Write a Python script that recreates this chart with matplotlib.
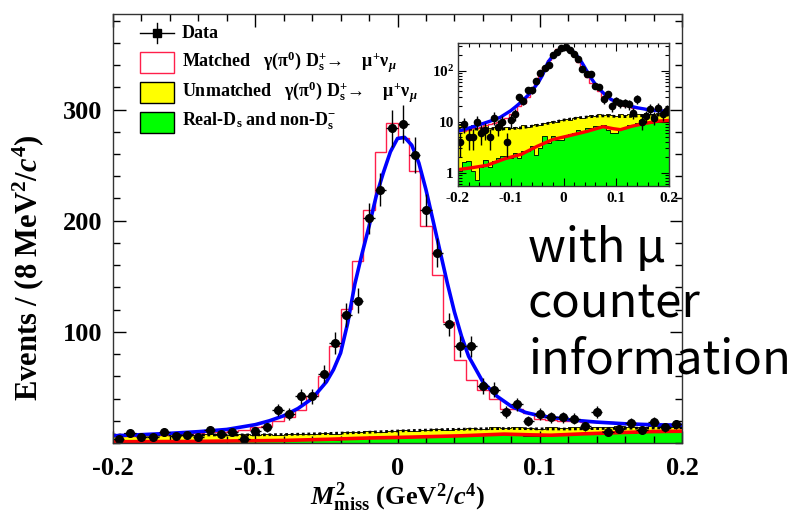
import numpy as np
import matplotlib
matplotlib.use('Agg')
from matplotlib import pyplot as plt
from matplotlib.patches import Rectangle
from matplotlib.lines import Line2D
from matplotlib.ticker import MultipleLocator, FixedLocator, NullFormatter

# ROOT-like look: bold Times for text, Times for math
plt.rcParams['font.family'] = 'serif'
plt.rcParams['font.serif'] = ['Liberation Serif', 'DejaVu Serif']
plt.rcParams['font.weight'] = 'bold'
plt.rcParams['mathtext.fontset'] = 'custom'
plt.rcParams['mathtext.rm'] = 'Liberation Serif:bold'
plt.rcParams['mathtext.bf'] = 'Liberation Serif:bold'
plt.rcParams['mathtext.it'] = 'Liberation Serif:italic'
plt.rcParams['mathtext.fallback'] = 'stix'

W, H = 800, 518

# M^2_miss bins: 50 bins of 8 MeV^2 from -0.2 to 0.2 GeV^2
edges = np.linspace(-0.2, 0.2, 51)
centers = 0.5 * (edges[:-1] + edges[1:])

data_counts = np.array([4, 9, 5, 5, 10, 6, 7, 5, 12, 8,
                        10, 4, 11, 14, 30, 26, 42, 42, 62, 90,
                        115, 128, 202, 228, 283, 287, 259, 210, 171, 107,
                        87, 87, 51, 48, 28, 35, 20, 26, 23, 23,
                        22, 15, 28, 10, 13, 18, 12, 19, 14, 17])

# stacked MC: matched signal on top of unmatched on top of real-Ds/non-Ds
matched_total = np.array([6.5, 6.5, 7, 7.5, 7.5, 8, 8.5, 9, 9.5, 10,
                          11, 12, 14, 15.6, 20, 23, 30, 42, 60, 87,
                          121, 164, 210, 262, 288, 274, 245, 195, 151, 109,
                          75, 57, 48, 40, 31, 31, 27, 22, 21, 20,
                          20, 19, 19, 18.5, 18, 18, 17.5, 17, 17, 17])
unmatched_total = np.array([8.5, 9.0, 8.0, 8.5, 7.5, 8.0, 8.5, 7.5, 8.0, 7.0,
                            7.5, 8.0, 7.5, 8.0, 7.5, 8.5, 8.0, 8.5, 9.0, 8.5,
                            9.5, 10.0, 10.5, 10.0, 11.0, 11.5, 11.0, 12.0, 12.5, 12.0,
                            13.0, 13.5, 13.0, 14.0, 13.5, 14.5, 13.5, 13.0, 14.0, 13.5,
                            14.0, 13.5, 14.5, 14.0, 15.0, 14.5, 14.0, 15.0, 15.5, 14.5])
nonds = np.array([1.06, 1.6, 1.67, 1.06, 0.73, 1.3, 1.8, 1.29, 1.67, 1.94,
                  2.15, 2.15, 1.94, 2.43, 1.94, 2.62, 2.62, 3.28, 2.25, 3.05,
                  5.3, 3.82, 5.15, 4.4, 4.4, 5.3, 5.8, 6.0, 7.0, 6.5,
                  7.5, 7.5, 8.1, 8.1, 8.7, 7.0, 6.0, 6.0, 7.5, 7.5,
                  8.7, 8.7, 9.4, 11.0, 9.4, 9.4, 10.0, 10.0, 10.6, 10.6])

# total fit (blue)
fit_x = [-0.2, -0.18, -0.16, -0.14, -0.12, -0.1, -0.09, -0.08, -0.07, -0.06,
         -0.05, -0.045, -0.04, -0.035, -0.03, -0.025, -0.02, -0.015, -0.01, -0.005,
         0.0, 0.005, 0.01, 0.015, 0.02, 0.025, 0.03, 0.035, 0.04, 0.045,
         0.05, 0.06, 0.07, 0.08, 0.09, 0.1, 0.12, 0.14, 0.16, 0.18, 0.2]
fit_y = [6.5, 7.5, 8.7, 10.2, 12.2, 16.5, 20, 24.5, 31, 40,
         55, 66, 81, 108, 143, 170, 195, 222, 243, 262,
         274, 275, 268, 252, 228, 200, 172, 144, 118, 96,
         78, 55, 42, 33, 27.5, 24.5, 21, 18.8, 17.3, 16.4, 16]
# background fit (black dashed) and non-Ds fit (red)
bkg_x = [-0.2, -0.15, -0.1, -0.08, -0.05, -0.02, 0.0, 0.03, 0.06, 0.08, 0.1, 0.12, 0.15, 0.2]
bkg_y = [7.2, 7.2, 7.3, 7.6, 8.5, 9.7, 10.8, 12.0, 12.8, 13.1, 12.7, 12.6, 13.2, 13.7]
red_x = [-0.2, -0.175, -0.145, -0.11, -0.08, -0.05, -0.02, 0.01, 0.045, 0.075,
         0.095, 0.108, 0.13, 0.155, 0.18, 0.2]
red_y = [1.15, 1.25, 1.4, 1.9, 2.3, 3.3, 4.5, 5.3, 6.5, 8.0,
         7.3, 7.0, 8.2, 9.3, 10.3, 10.6]

legend_labels = ['Data',
                 r'Matched   γ(π$^{0}$) D$_{\mathrm{s}}^{+}$→    μ$^{+}$ν$_{\mu}$',
                 r'Unmatched   γ(π$^{0}$) D$_{\mathrm{s}}^{+}$→    μ$^{+}$ν$_{\mu}$',
                 r'Real-D$_{\mathrm{s}}$ and non-D$_{\mathrm{s}}^{-}$']
x_ticks = [-0.2, -0.1, 0.0, 0.1, 0.2]
x_tick_labels = ['-0.2', '-0.1', '0', '0.1', '0.2']

YELLOW = '#ffff00'
GREEN = '#00ff00'
MATCH_RED = '#ff1f4b'


def px(x, y):
    """pixel position -> figure fraction"""
    return x / W, 1 - y / H


def draw_content(ax, ms, lw_fit):
    ax.stairs(unmatched_total, edges, fill=True, color=YELLOW, lw=0)
    ax.stairs(unmatched_total, edges, color='black', lw=0.6, baseline=None)
    ax.stairs(nonds, edges, fill=True, color=GREEN, lw=0)
    ax.stairs(nonds, edges, color='black', lw=0.6, baseline=None)
    ax.stairs(matched_total, edges, color=MATCH_RED, lw=1.0, baseline=None)
    ax.plot(bkg_x, bkg_y, color='black', lw=2.0, ls=(0, (1, 1)))
    ax.plot(red_x, red_y, color='red', lw=lw_fit)
    ax.plot(fit_x, fit_y, color='blue', lw=lw_fit)
    ax.errorbar(centers, data_counts, yerr=np.sqrt(data_counts), xerr=0.004,
                fmt='o', color='black', ms=ms, elinewidth=1.0, capsize=0)
    ax.set_xlim(-0.2, 0.2)
    for s in ax.spines.values():
        s.set_linewidth(1.0)
        s.set_color('#333333')


fig = plt.figure(figsize=(W / 100, H / 100), dpi=100)

# main panel
x0, y0 = px(113, 443)
ax = fig.add_axes([x0, y0, 569 / W, 429 / H])
draw_content(ax, ms=5.5, lw_fit=2.6)
ax.set_ylim(0, 386)
ax.xaxis.set_major_locator(FixedLocator(x_ticks))
ax.set_xticklabels(x_tick_labels)
ax.xaxis.set_minor_locator(MultipleLocator(0.02))
ax.yaxis.set_major_locator(FixedLocator([100, 200, 300]))
ax.yaxis.set_minor_locator(MultipleLocator(20))
ax.tick_params(which='both', direction='in', top=True, right=True, labelsize=19)
ax.tick_params(which='major', length=9, width=1.0)
ax.tick_params(which='minor', length=5, width=1.0)
ax.tick_params(axis='x', pad=10)
ax.tick_params(axis='y', pad=8)

fig.text(*px(28, 268), r'Events / (8 MeV$^{2}$/$c^{4}$)', rotation=90,
         ha='center', va='center', fontsize=22)
fig.text(*px(398, 497), r'$M^{2}_{\mathrm{miss}}$ (GeV$^{2}$/$c^{4}$)',
         ha='center', va='center', fontsize=19)

# legend drawn by hand in the upper left corner
ex, ey = px(140, 33)
ex2, _ = px(174, 33)
mx, _ = px(157, 33)
_, eyt = px(157, 23)
_, eyb = px(157, 43)
fig.add_artist(Line2D([ex, ex2], [ey, ey], color='black', lw=1.0))
fig.add_artist(Line2D([mx, mx], [eyb, eyt], color='black', lw=1.0))
fig.add_artist(Line2D([mx], [ey], marker='s', ms=5.5, color='black'))
box_rows = [(52, 'white', MATCH_RED), (82, YELLOW, 'black'), (112, GREEN, 'black')]
for top, face, edge in box_rows:
    bx, by = px(140, top + 21)
    fig.add_artist(Rectangle((bx, by), 34 / W, 21 / H, facecolor=face,
                             edgecolor=edge, lw=1.0, transform=fig.transFigure))
for label, yc in zip(legend_labels, [33, 62, 92, 121]):
    fig.text(*px(182, yc), label, ha='left', va='center', fontsize=13)

# log-scale inset
ix, iy = px(458, 186)
axin = fig.add_axes([ix, iy, 211 / W, 143 / H])
draw_content(axin, ms=4.5, lw_fit=2.4)
axin.set_yscale('log')
axin.set_ylim(0.55, 350)
axin.xaxis.set_major_locator(FixedLocator(x_ticks))
axin.set_xticklabels(x_tick_labels)
axin.xaxis.set_minor_locator(MultipleLocator(0.02))
axin.yaxis.set_major_locator(FixedLocator([1, 10, 100]))
axin.set_yticklabels(['1', '10', r'10$^{2}$'])
axin.yaxis.set_minor_formatter(NullFormatter())
axin.tick_params(which='both', direction='in', top=True, right=True, labelsize=11)
axin.tick_params(which='major', length=6, width=0.8)
axin.tick_params(which='minor', length=3, width=0.8)
axin.tick_params(axis='x', pad=4)
axin.tick_params(axis='y', pad=3)

# note on the right
note_font = ['Noto Sans CJK SC', 'DejaVu Sans']
for line, base in zip(['with μ', 'counter', 'information'], [262, 317, 373]):
    fig.text(*px(528, base), line, ha='left', va='baseline', fontsize=34,
             family=note_font, fontweight='normal')

fig.savefig('out.png', dpi=100)
